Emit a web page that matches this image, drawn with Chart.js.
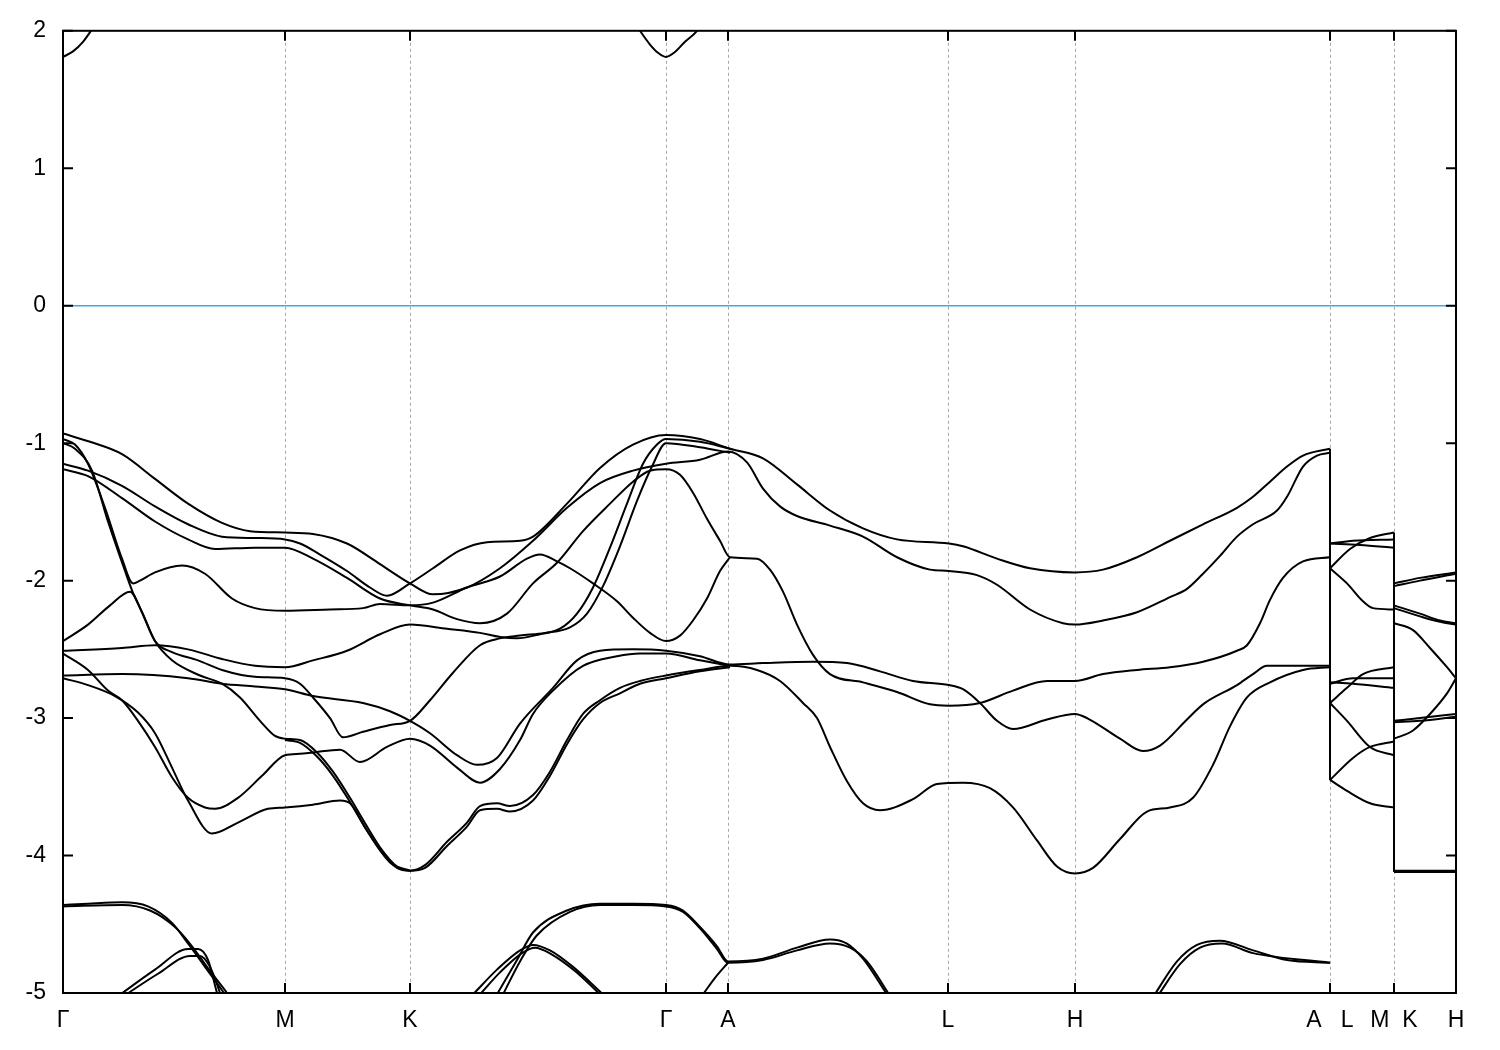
<!DOCTYPE html>
<html>
<head>
<meta charset="utf-8">
<title>Band structure</title>
<script src="https://cdn.jsdelivr.net/npm/chart.js@4.4.1/dist/chart.umd.min.js"></script>
<style>
  html, body { margin: 0; padding: 0; background: #fff; }
  canvas { display: block; }
</style>
</head>
<body>
<canvas id="bands" width="1500" height="1050"></canvas>
<script>
// k-path: positions of the high-symmetry points along the path and their labels
const kPoints = [0, 222, 347, 603, 665, 885, 1012, 1267, 1331, 1393];
const kLabels = ['Γ', 'M', 'K', 'Γ', 'A', 'L', 'H', 'A   L', 'M  K', 'H'];
const energyTicks = [-5, -4, -3, -2, -1, 0, 1, 2];
const fermiEnergy = 0;

// bands along Γ-M-K-Γ-A-L-H-A, pairs of [k, E (eV)]
const bandTop1 = [[0,-1.15],[25,-1.20],[59,-1.31],[92,-1.46],[125,-1.59],[159,-1.68],[192,-1.69],[222,-1.70],[237,-1.73],[257,-1.81],[284,-1.93],[307,-2.05],[324,-2.11],[347,-2.02],[370,-1.91],[397,-1.78],[424,-1.72],[457,-1.71],[470,-1.68],[504,-1.44],[537,-1.18],[570,-1.01],[603,-0.94],[637,-0.97],[667,-1.04],[700,-1.11],[734,-1.30],[767,-1.49],[800,-1.62],[834,-1.70],[886,-1.73],[900,-1.75],[934,-1.84],[967,-1.91],[1012,-1.94],[1040,-1.92],[1074,-1.83],[1107,-1.71],[1140,-1.59],[1174,-1.47],[1190,-1.39],[1207,-1.28],[1224,-1.17],[1240,-1.09],[1267,-1.04]];
const bandTop2 = [[0,-0.93],[27,-0.99],[59,-1.08],[92,-1.26],[125,-1.44],[159,-1.58],[187,-1.64],[222,-1.65],[250,-1.66],[284,-1.73],[317,-1.88],[347,-2.02],[370,-2.10],[404,-2.05],[437,-1.91],[470,-1.71],[504,-1.47],[537,-1.29],[570,-1.20],[603,-1.15],[637,-1.12],[665,-1.06],[684,-1.14],[700,-1.33],[717,-1.46],[734,-1.53],[767,-1.60],[800,-1.68],[834,-1.83],[867,-1.92],[886,-1.93],[914,-1.96],[934,-2.03],[967,-2.21],[1000,-2.31],[1012,-2.32],[1040,-2.29],[1074,-2.23],[1107,-2.12],[1124,-2.06],[1140,-1.95],[1157,-1.82],[1174,-1.68],[1190,-1.59],[1214,-1.49],[1224,-1.39],[1240,-1.17],[1254,-1.09],[1267,-1.07]];
const bandMid1 = [[0,-1.19],[25,-1.24],[59,-1.40],[92,-1.57],[125,-1.70],[152,-1.77],[192,-1.76],[222,-1.76],[250,-1.84],[284,-1.98],[317,-2.13],[347,-2.18],[370,-2.21],[394,-2.28],[417,-2.31],[444,-2.24],[470,-2.02],[494,-1.87],[520,-1.64],[547,-1.44],[570,-1.28],[587,-1.20],[603,-1.19],[617,-1.23],[630,-1.36],[644,-1.55],[657,-1.71],[667,-1.83],[694,-1.84],[707,-1.92],[720,-2.08],[734,-2.32],[750,-2.54],[767,-2.68],[800,-2.74],[834,-2.81],[867,-2.90],[886,-2.91],[917,-2.89],[950,-2.80],[984,-2.73],[1012,-2.73],[1040,-2.68],[1074,-2.65],[1107,-2.63],[1140,-2.59],[1174,-2.51],[1184,-2.47],[1197,-2.31],[1207,-2.14],[1220,-1.98],[1240,-1.86],[1267,-1.83]];
const bandHump = [[0,-0.97],[12,-1.01],[25,-1.15],[42,-1.47],[59,-1.84],[70,-2.02],[77,-2.00],[92,-1.94],[119,-1.89],[142,-1.95],[169,-2.13],[192,-2.20],[222,-2.22],[267,-2.21],[300,-2.20],[317,-2.17],[347,-2.18],[370,-2.16],[404,-2.05],[437,-1.97],[464,-1.84],[477,-1.81],[494,-1.86],[507,-1.91],[530,-2.02],[554,-2.15],[570,-2.27],[587,-2.38],[603,-2.44],[617,-2.40],[630,-2.29],[644,-2.13],[657,-1.93],[667,-1.83]];
const bandSteep1 = [[0,-1.00],[12,-1.04],[29,-1.20],[45,-1.57],[62,-1.93],[69,-2.07],[79,-2.23],[92,-2.44],[109,-2.52],[135,-2.58],[159,-2.65],[192,-2.70],[222,-2.71],[237,-2.75],[250,-2.85],[267,-3.00],[280,-3.14],[300,-3.10],[327,-3.05],[347,-3.02],[367,-2.87],[390,-2.67],[417,-2.47],[437,-2.42],[457,-2.40],[482,-2.38],[507,-2.34],[524,-2.24],[540,-2.04],[557,-1.75],[574,-1.42],[589,-1.17],[603,-1.00],[637,-1.03],[667,-1.07]];
const bandSteep2 = [[0,-2.51],[59,-2.49],[92,-2.47],[125,-2.50],[159,-2.57],[192,-2.62],[222,-2.63],[250,-2.58],[284,-2.51],[317,-2.39],[347,-2.32],[384,-2.35],[417,-2.38],[437,-2.41],[454,-2.42],[477,-2.39],[497,-2.35],[514,-2.24],[530,-2.05],[547,-1.76],[564,-1.44],[580,-1.15],[594,-1.01],[603,-0.97],[637,-0.99],[667,-1.04]];
const bandLow1 = [[0,-2.44],[25,-2.32],[47,-2.18],[67,-2.08],[79,-2.23],[92,-2.44],[109,-2.58],[137,-2.69],[159,-2.75],[177,-2.85],[197,-3.02],[212,-3.13],[222,-3.15],[237,-3.16],[254,-3.25],[270,-3.39],[287,-3.58],[300,-3.74],[317,-3.94],[334,-4.08],[347,-4.11],[362,-4.07],[384,-3.90],[404,-3.76],[417,-3.64],[434,-3.62],[447,-3.64],[470,-3.56],[487,-3.39],[504,-3.16],[520,-2.97],[537,-2.87],[557,-2.78],[577,-2.73],[603,-2.69],[637,-2.65],[667,-2.62],[694,-2.65],[717,-2.73],[740,-2.89],[754,-3.00],[767,-3.21],[784,-3.46],[800,-3.62],[817,-3.67],[850,-3.59],[874,-3.48],[900,-3.47],[927,-3.51],[950,-3.65],[974,-3.89],[994,-4.08],[1012,-4.13],[1030,-4.09],[1057,-3.88],[1084,-3.68],[1107,-3.65],[1130,-3.58],[1150,-3.34],[1167,-3.06],[1184,-2.85],[1207,-2.74],[1240,-2.65],[1267,-2.63]];
const bandLow2 = [[0,-2.69],[59,-2.68],[125,-2.71],[159,-2.75],[192,-2.77],[222,-2.79],[250,-2.84],[300,-2.89],[327,-2.95],[347,-3.02],[367,-3.11],[394,-3.27],[414,-3.34],[434,-3.29],[457,-3.04],[490,-2.78],[514,-2.58],[537,-2.51],[570,-2.50],[603,-2.51],[637,-2.55],[667,-2.61],[700,-2.60],[750,-2.59],[784,-2.60],[817,-2.66],[850,-2.73],[886,-2.76],[900,-2.79],[917,-2.89],[934,-3.02],[950,-3.08],[984,-3.01],[1012,-2.97],[1024,-3.00],[1057,-3.15],[1080,-3.24],[1097,-3.20],[1124,-3.01],[1140,-2.90],[1174,-2.76],[1190,-2.68],[1204,-2.62],[1267,-2.62]];
const bandLow3 = [[0,-2.53],[25,-2.65],[45,-2.80],[59,-2.87],[75,-3.02],[92,-3.21],[109,-3.43],[125,-3.58],[142,-3.65],[152,-3.66],[175,-3.58],[199,-3.42],[222,-3.27],[237,-3.26],[250,-3.25],[277,-3.23],[297,-3.32],[324,-3.21],[347,-3.15],[367,-3.20],[394,-3.36],[417,-3.47],[437,-3.37],[457,-3.16],[470,-2.97],[490,-2.80],[520,-2.62],[554,-2.55],[577,-2.53],[603,-2.53],[637,-2.58],[667,-2.62]];
const bandLow4 = [[0,-2.71],[25,-2.76],[52,-2.84],[75,-2.96],[92,-3.11],[109,-3.36],[125,-3.60],[149,-3.84],[175,-3.76],[205,-3.66],[222,-3.65],[250,-3.63],[277,-3.60],[287,-3.62],[304,-3.82],[327,-4.05],[347,-4.11]];
const bandLow5 = [[222,-3.16],[237,-3.18],[254,-3.28],[270,-3.42],[287,-3.61],[300,-3.77],[317,-3.96],[334,-4.09],[347,-4.11],[362,-4.09],[384,-3.93],[404,-3.79],[417,-3.67],[434,-3.66],[447,-3.68],[470,-3.60],[487,-3.42],[504,-3.19],[520,-3.01],[537,-2.89],[557,-2.82],[577,-2.75],[603,-2.71],[637,-2.66],[667,-2.63]];

// deeper bands (around -4.4 .. -5)
const deep1 = [[0,-4.36],[25,-4.35],[59,-4.34],[85,-4.37],[109,-4.49],[125,-4.64],[142,-4.81],[159,-4.98],[172,-5.12]];
const deep1b = [[0,-4.37],[59,-4.36],[87,-4.40],[112,-4.52],[129,-4.66],[146,-4.83],[164,-5.00],[177,-5.14]];
const deep2 = [[50,-5.05],[92,-4.83],[125,-4.68],[135,-4.68],[145,-4.76],[154,-5.00],[158,-5.10]];
const deep2b = [[55,-5.05],[95,-4.86],[127,-4.73],[137,-4.73],[147,-4.81],[157,-5.00],[161,-5.10]];
const deep3 = [[434,-5.01],[454,-4.76],[470,-4.56],[504,-4.40],[537,-4.35],[570,-4.35],[603,-4.36],[620,-4.40],[637,-4.52],[654,-4.66],[665,-4.77],[700,-4.75],[734,-4.67],[767,-4.61],[784,-4.64],[800,-4.75],[824,-5.01]];
const deep3b = [[440,-5.01],[457,-4.77],[474,-4.58],[507,-4.41],[537,-4.36],[570,-4.36],[603,-4.37],[620,-4.41],[637,-4.53],[654,-4.68],[665,-4.78],[700,-4.76],[734,-4.69],[767,-4.64],[787,-4.67],[804,-4.77],[826,-5.01]];
const deep4 = [[410,-5.01],[434,-4.83],[457,-4.69],[470,-4.65],[487,-4.69],[510,-4.81],[540,-5.01]];
const deep4b = [[417,-5.01],[437,-4.85],[459,-4.71],[472,-4.67],[489,-4.72],[512,-4.84],[537,-5.01]];
const deep5 = [[640,-5.01],[652,-4.89],[665,-4.78]];
const deep6 = [[1090,-5.03],[1114,-4.77],[1134,-4.65],[1157,-4.62],[1190,-4.69],[1224,-4.76],[1267,-4.78]];
const deep6b = [[1094,-5.03],[1117,-4.79],[1137,-4.67],[1159,-4.64],[1190,-4.71],[1267,-4.78]];

// conduction band minimum at Γ
const condLeft = [[0,1.81],[10,1.85],[20,1.92],[28,2.00],[36,2.08]];
const condRight = [[570,2.08],[577,2.00],[587,1.90],[595,1.84],[603,1.81],[611,1.84],[622,1.92],[634,2.00],[641,2.08]];

// L-M segment
const lm1 = [[1267,-1.91],[1287,-1.77],[1307,-1.69],[1331,-1.65]];
const lm2 = [[1267,-1.73],[1290,-1.71],[1331,-1.70]];
const lm3 = [[1267,-1.73],[1297,-1.74],[1331,-1.76]];
const lm4 = [[1267,-1.91],[1284,-2.02],[1300,-2.15],[1310,-2.20],[1331,-2.21]];
const lm5 = [[1267,-2.74],[1290,-2.75],[1331,-2.78]];
const lm6 = [[1267,-2.75],[1290,-2.71],[1331,-2.71]];
const lm7 = [[1267,-2.89],[1284,-2.78],[1300,-2.68],[1331,-2.63]];
const lm8 = [[1267,-2.89],[1284,-3.02],[1307,-3.21],[1331,-3.27]];
const lm9 = [[1267,-3.45],[1290,-3.29],[1307,-3.21],[1331,-3.17]];
const lm10 = [[1267,-3.45],[1284,-3.53],[1307,-3.62],[1331,-3.65]];

// K-H segment
const kh1 = [[1331,-2.02],[1357,-1.98],[1393,-1.94]];
const kh1b = [[1331,-2.04],[1357,-2.00],[1393,-1.95]];
const kh2 = [[1331,-2.18],[1357,-2.24],[1377,-2.29],[1393,-2.31]];
const kh2b = [[1331,-2.20],[1357,-2.26],[1377,-2.30],[1393,-2.32]];
const kh3 = [[1331,-2.31],[1350,-2.36],[1367,-2.49],[1384,-2.63],[1393,-2.71]];
const kh4 = [[1331,-3.15],[1350,-3.09],[1367,-2.97],[1384,-2.82],[1393,-2.71]];
const kh5 = [[1331,-3.02],[1357,-3.00],[1393,-2.97]];
const kh5b = [[1331,-3.03],[1357,-3.02],[1393,-2.99]];
const kh6 = [[1331,-4.11],[1393,-4.11]];
const kh6b = [[1331,-4.12],[1393,-4.12]];

const valence = [bandTop1, bandTop2, bandMid1, bandHump, bandSteep1, bandSteep2,
  bandLow1, bandLow2, bandLow3, bandLow4, bandLow5,
  lm1, lm2, lm3, lm4, lm5, lm6, lm7, lm8, lm9, lm10,
  kh1, kh1b, kh2, kh2b, kh3, kh4, kh5, kh5b, kh6, kh6b];
const others = [deep1, deep1b, deep2, deep2b, deep3, deep3b, deep4, deep4b, deep5, deep6, deep6b, condLeft, condRight];

const toXY = arr => arr.map(([x, y]) => ({ x, y }));

// bands are joined straight across the path breaks (A|L and M|K)
function breakLine(k) {
  const vals = valence.flat().filter(p => p[0] === k).map(p => p[1]);
  return [{ x: k, y: Math.max(...vals) }, { x: k, y: Math.min(...vals) }];
}

const bandStyle = {
  borderColor: '#000',
  borderWidth: 2,
  pointRadius: 0,
  fill: false,
  cubicInterpolationMode: 'monotone',
  clip: 0
};

const datasets = [];
datasets.push({
  data: [{ x: kPoints[0], y: fermiEnergy }, { x: kPoints[kPoints.length - 1], y: fermiEnergy }],
  borderColor: '#45a5dc', borderWidth: 1.6, pointRadius: 0, fill: false, clip: 0
});
[...valence, ...others].forEach(b => datasets.push({ ...bandStyle, data: toXY(b) }));
[kPoints[7], kPoints[8]].forEach(k => datasets.push({
  data: breakLine(k), borderColor: '#000', borderWidth: 2, pointRadius: 0, tension: 0, fill: false, clip: 0
}));

const framePlugin = {
  id: 'frame',
  beforeDatasetsDraw(chart) {
    const { ctx, chartArea: a, scales: { x } } = chart;
    ctx.save();
    ctx.strokeStyle = '#a8a8a8';
    ctx.lineWidth = 1;
    ctx.setLineDash([3, 3]);
    kPoints.slice(1, -1).forEach(k => {
      const px = Math.round(x.getPixelForValue(k)) + 0.5;
      ctx.beginPath();
      ctx.moveTo(px, a.top);
      ctx.lineTo(px, a.bottom);
      ctx.stroke();
    });
    ctx.restore();
  },
  afterDatasetsDraw(chart) {
    const { ctx, chartArea: a, scales: { x, y } } = chart;
    ctx.save();
    ctx.strokeStyle = '#000';
    ctx.lineWidth = 2;
    ctx.strokeRect(a.left, a.top, a.right - a.left, a.bottom - a.top);
    ctx.beginPath();
    energyTicks.forEach(v => {
      const py = y.getPixelForValue(v);
      ctx.moveTo(a.left, py); ctx.lineTo(a.left + 10, py);
      ctx.moveTo(a.right, py); ctx.lineTo(a.right - 10, py);
    });
    kPoints.slice(1, -1).forEach(k => {
      const px = x.getPixelForValue(k);
      ctx.moveTo(px, a.bottom); ctx.lineTo(px, a.bottom - 10);
      ctx.moveTo(px, a.top); ctx.lineTo(px, a.top + 10);
    });
    ctx.stroke();
    ctx.restore();
  }
};

Chart.defaults.font.family = "'Liberation Sans', Arial, sans-serif";
Chart.defaults.font.size = 23;
Chart.defaults.color = '#000';

new Chart(document.getElementById('bands').getContext('2d'), {
  type: 'line',
  data: { datasets },
  options: {
    responsive: false,
    animation: false,
    layout: { padding: { top: 28, right: 44, left: 0, bottom: 0 } },
    plugins: { legend: { display: false }, tooltip: { enabled: false } },
    scales: {
      x: {
        type: 'linear',
        min: kPoints[0],
        max: kPoints[kPoints.length - 1],
        grid: { display: false, drawTicks: false },
        border: { display: false },
        afterBuildTicks: axis => { axis.ticks = kPoints.map(v => ({ value: v })); },
        afterFit: axis => { axis.height = 57; },
        ticks: {
          autoSkip: false,
          maxRotation: 0,
          padding: 14,
          callback: (value, index) => kLabels[index]
        }
      },
      y: {
        min: energyTicks[0],
        max: energyTicks[energyTicks.length - 1],
        grid: { display: false, drawTicks: false },
        border: { display: false },
        afterBuildTicks: axis => { axis.ticks = energyTicks.map(v => ({ value: v })); },
        afterFit: axis => { axis.width = 63; },
        ticks: { padding: 17 }
      }
    }
  },
  plugins: [framePlugin]
});
</script>
</body>
</html>
